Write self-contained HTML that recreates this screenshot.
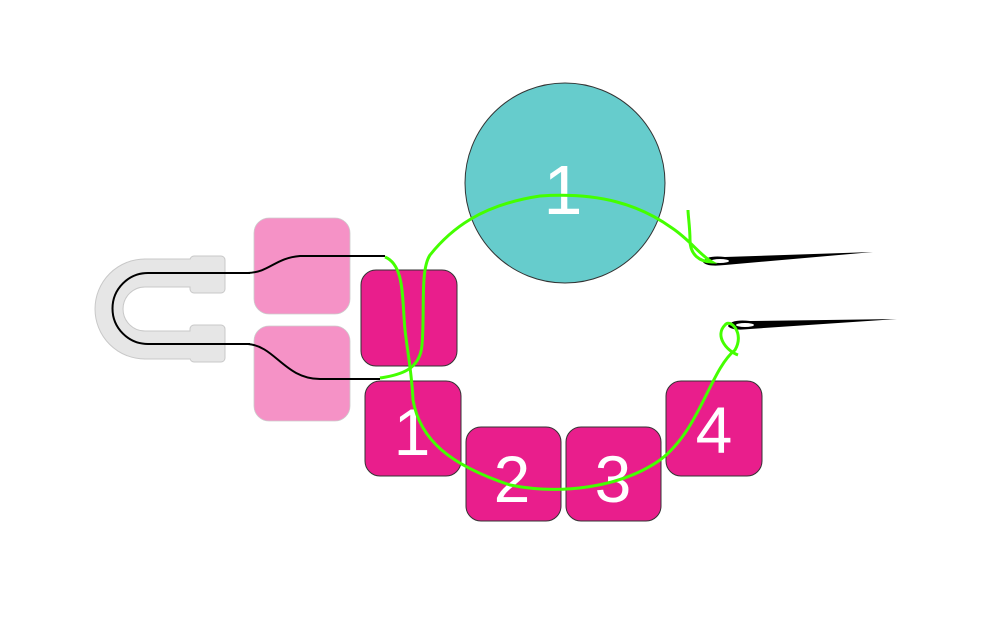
<!DOCTYPE html>
<html><head><style>html,body{margin:0;padding:0;background:#fff}</style></head>
<body>
<svg width="990" height="620" viewBox="0 0 990 620" xmlns="http://www.w3.org/2000/svg">
<rect width="990" height="620" fill="#fff"/>
<!-- clip -->
<path d="M195,273 H145 A36,36 0 0 0 145,345 H195" fill="none" stroke="#c8c8c8" stroke-width="29"/>
<rect x="190" y="256" width="35" height="37" rx="4" fill="#e6e6e6" stroke="#c8c8c8" stroke-width="1"/>
<rect x="190" y="325" width="35" height="37" rx="4" fill="#e6e6e6" stroke="#c8c8c8" stroke-width="1"/>
<path d="M196,273 H145 A36,36 0 0 0 145,345 H196" fill="none" stroke="#e6e6e6" stroke-width="27"/>
<rect x="254" y="218" width="96" height="96" rx="15" fill="#f592c6" stroke="#ccc" stroke-width="0.8"/>
<rect x="254" y="326" width="96" height="95" rx="15" fill="#f592c6" stroke="#ccc" stroke-width="0.8"/>
<path d="M250,273 H148 A35,35 0 0 0 148,344 H250" fill="none" stroke="#000" stroke-width="2"/>
<path d="M248,273 C270,272 275,258 300,256 L385,256" fill="none" stroke="#000" stroke-width="2"/>
<path d="M248,344 C275,346 285,379 320,379 L380,379" fill="none" stroke="#000" stroke-width="2"/>
<circle cx="565" cy="183" r="100" fill="#66cccc" stroke="#333" stroke-width="1"/>
<text x="563" y="214" font-family="Liberation Sans, sans-serif" font-size="70" fill="#fff" text-anchor="middle">1</text>
<g fill="#e91e8c" stroke="#333" stroke-width="1">
<rect x="361" y="270" width="96" height="96" rx="15"/>
<rect x="365" y="381" width="96" height="95" rx="15"/>
<rect x="466" y="427" width="95" height="94" rx="15"/>
<rect x="566" y="427" width="95" height="94" rx="15"/>
<rect x="666" y="381" width="96" height="95" rx="15"/>
</g>
<g font-family="Liberation Sans, sans-serif" font-size="66" fill="#fff" text-anchor="middle">
<text x="412" y="455">1</text>
<text x="512" y="502">2</text>
<text x="613" y="502">3</text>
<text x="714" y="453">4</text>
</g>
<!-- needles -->
<path d="M703,262 Q706,255 725,257 L873,252 L725,265 Q706,267 703,262 Z" fill="#000"/>
<ellipse cx="720" cy="261" rx="9" ry="2" fill="#fff"/>
<path d="M728,326 Q731,319 750,321 L897,319 L750,329 Q731,331 728,326 Z" fill="#000"/>
<ellipse cx="745" cy="325" rx="9" ry="2" fill="#fff"/>
<!-- green thread -->
<g fill="none" stroke="#44ff00" stroke-width="3">
<path d="M385,257 C405,265 402,300 405,330 C408,355 412,375 413,400 C420,440 450,465 510,485 C560,495 620,488 660,460 C700,430 710,370 735,350 C745,333 730,318 725,325 C715,335 725,350 738,355"/>
<path d="M380,378 C400,375 420,370 422,345 C425,310 420,270 430,255 C450,230 480,205 540,196 C600,192 640,205 672,228 C690,240 700,255 712,262 C700,262 690,255 690,240 C690,228 688,215 688,210"/>
</g>
</svg>
</body></html>
